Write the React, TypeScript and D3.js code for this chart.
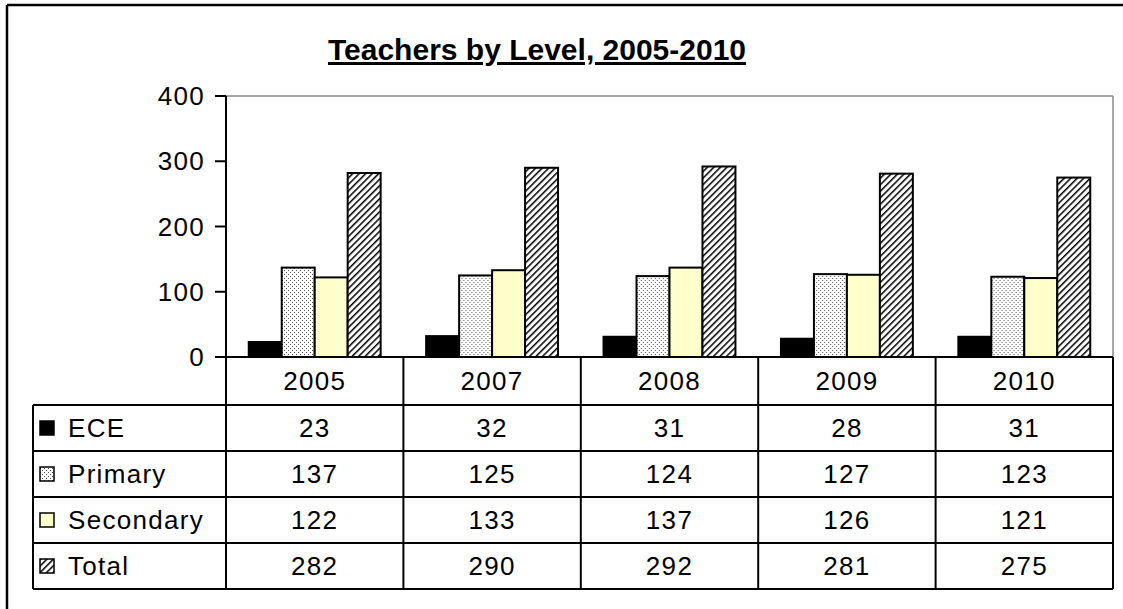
import React from 'react';
import * as d3 from 'd3';

// data
const years = ['2005', '2007', '2008', '2009', '2010'];
const seriesNames = ['ECE', 'Primary', 'Secondary', 'Total'];
const ece = [23, 32, 31, 28, 31];
const primary = [137, 125, 124, 127, 123];
const secondary = [122, 133, 137, 126, 121];
const total = [282, 290, 292, 281, 275];
const yTicks = [0, 100, 200, 300, 400];

const seriesValues = [ece, primary, secondary, total];
const seriesFill = ['#000000', 'url(#stipple)', '#FFFFCC', 'url(#hatch)'];

const W = 1123;
const H = 609;
const FONT = "Arial, 'Liberation Sans', sans-serif";
const FS = 26;
const LS = 1.3;

const App: React.FC = () => {
  const left = 226, right = 1113, top = 96, base = 357;
  const tableLeft = 33;
  const headerH = 48, rowH = 46;

  const x = d3.scaleBand<string>().domain(years).range([left, right]).padding(0);
  const inner = d3.scaleBand<string>()
    .domain(seriesNames)
    .range([0, x.bandwidth()])
    .paddingInner(0)
    .paddingOuter(0.69);
  const y = d3.scaleLinear().domain([0, 400]).range([base, top]);

  const rowTops = seriesNames.map((_, i) => base + headerH + i * rowH);
  const tableBottom = base + headerH + seriesNames.length * rowH;
  const dy = 9;

  return (
    <svg width={W} height={H} style={{ position: 'absolute', left: 0, top: 0, background: '#fff' }}>
      <defs>
        <pattern id="stipple" width={4} height={4} patternUnits="userSpaceOnUse">
          <rect width={4} height={4} fill="#fff" />
          <rect x={0} y={0} width={1} height={1} fill="#555" />
          <rect x={2} y={2} width={1} height={1} fill="#555" />
        </pattern>
        <pattern id="hatch" width={4.6} height={4.6} patternUnits="userSpaceOnUse" patternTransform="rotate(45)">
          <rect width={4.6} height={4.6} fill="#fff" />
          <line x1={0} y1={0} x2={0} y2={4.6} stroke="#000" strokeWidth={3} />
        </pattern>
      </defs>

      {/* outer frame, cut off on the right and bottom */}
      <line x1={7} y1={5} x2={W} y2={5} stroke="#000" strokeWidth={2.5} />
      <line x1={7} y1={5} x2={7} y2={H} stroke="#000" strokeWidth={2.5} />

      {/* title */}
      <text x={537} y={60} textAnchor="middle" fontFamily={FONT} fontSize={30} fontWeight="bold"
        textDecoration="underline">Teachers by Level, 2005-2010</text>

      {/* plot area border */}
      <line x1={left} y1={top} x2={right} y2={top} stroke="#888" strokeWidth={1.5} />
      <line x1={right} y1={top} x2={right} y2={base} stroke="#888" strokeWidth={1.5} />

      {/* y ticks */}
      {yTicks.map(t => (
        <g key={t}>
          <line x1={left - 11} x2={left} y1={y(t)} y2={y(t)} stroke="#000" strokeWidth={2} />
          <text x={205} y={y(t) + dy} textAnchor="end" fontFamily={FONT} fontSize={FS}
            letterSpacing={LS}>{t}</text>
        </g>
      ))}

      {/* bars */}
      {years.map((yr, i) => (
        <g key={yr} transform={`translate(${x(yr)},0)`}>
          {seriesNames.map((s, j) => (
            <rect key={s} x={inner(s)} y={y(seriesValues[j][i])} width={inner.bandwidth()}
              height={base - y(seriesValues[j][i])} fill={seriesFill[j]} stroke="#000" strokeWidth={2} />
          ))}
        </g>
      ))}

      {/* data table */}
      <g fontFamily={FONT} fontSize={FS} letterSpacing={LS}>
        {years.map(yr => (
          <text key={yr} x={x(yr)! + x.bandwidth() / 2} y={base + headerH / 2 + dy} textAnchor="middle">{yr}</text>
        ))}
        {seriesNames.map((s, j) => (
          <g key={s}>
            <rect x={40} y={rowTops[j] + rowH / 2 - 7} width={14} height={14} fill={seriesFill[j]}
              stroke="#000" strokeWidth={1.5} />
            <text x={68} y={rowTops[j] + rowH / 2 + dy}>{s}</text>
            {years.map((yr, i) => (
              <text key={yr} x={x(yr)! + x.bandwidth() / 2} y={rowTops[j] + rowH / 2 + dy}
                textAnchor="middle">{seriesValues[j][i]}</text>
            ))}
          </g>
        ))}
        {/* horizontal rules */}
        <line x1={left - 11} x2={right} y1={base} y2={base} stroke="#000" strokeWidth={2} />
        {[...rowTops, tableBottom].map((ry, k) => (
          <line key={k} x1={tableLeft} x2={right} y1={ry} y2={ry} stroke="#000" strokeWidth={2} />
        ))}
        {/* vertical rules */}
        <line x1={left} x2={left} y1={top} y2={tableBottom} stroke="#000" strokeWidth={2} />
        {years.map(yr => (
          <line key={yr} x1={x(yr)! + x.bandwidth()} x2={x(yr)! + x.bandwidth()} y1={base} y2={tableBottom}
            stroke="#000" strokeWidth={2} />
        ))}
        <line x1={tableLeft} x2={tableLeft} y1={rowTops[0]} y2={tableBottom} stroke="#000" strokeWidth={2} />
      </g>
    </svg>
  );
};

export default App;
